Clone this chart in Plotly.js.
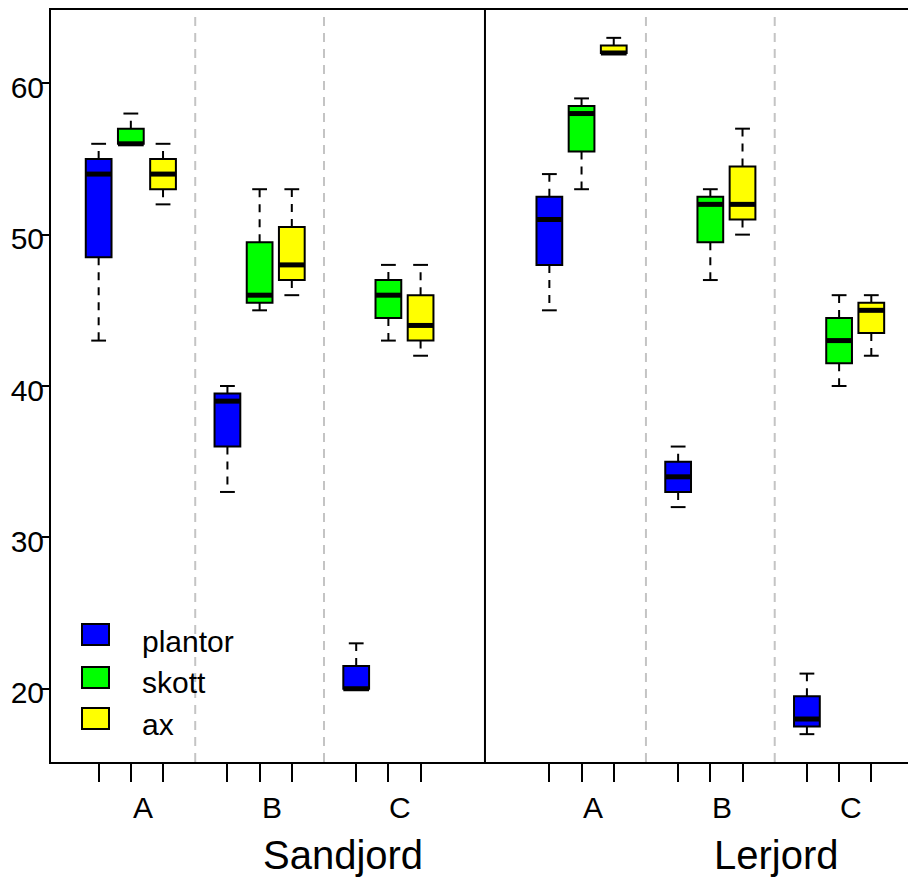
<!DOCTYPE html>
<html>
<head>
<meta charset="utf-8">
<script src="https://cdn.plot.ly/plotly-3.0.1.min.js"></script>
<style>
  html, body { margin: 0; padding: 0; background: #ffffff; }
  #chart { width: 908px; height: 878px; }
</style>
</head>
<body>
<div id="chart"></div>
<script>
// ---- data ----
const soils = ['Sandjord', 'Lerjord'];
const groups = ['A', 'B', 'C'];
const seriesNames = ['plantor', 'skott', 'ax'];
const seriesColors = ['#0000FF', '#00FF00', '#FFFF00'];
// order of each array: Sandjord A, B, C, Lerjord A, B, C
const plantorMin = [43, 33, 20, 45, 32, 17];
const plantorQ1  = [48.5, 36, 20, 48, 33, 17.5];
const plantorMed = [54, 39, 20, 51, 34, 18];
const plantorQ3  = [55, 39.5, 21.5, 52.5, 35, 19.5];
const plantorMax = [56, 40, 23, 54, 36, 21];

const skottMin = [56, 45, 43, 53, 47, 40];
const skottQ1  = [56, 45.5, 44.5, 55.5, 49.5, 41.5];
const skottMed = [56, 46, 46, 58, 52, 43];
const skottQ3  = [57, 49.5, 47, 58.5, 52.5, 44.5];
const skottMax = [58, 53, 48, 59, 53, 46];

const axMin = [52, 46, 42, 62, 50, 42];
const axQ1  = [53, 47, 43, 62, 51, 43.5];
const axMed = [54, 48, 44, 62, 52, 45];
const axQ3  = [55, 50.5, 46, 62.5, 54.5, 45.5];
const axMax = [56, 53, 48, 63, 57, 46];

const yTicks = [20, 30, 40, 50, 60];

// ---- build ----
const stats = [
  {min: plantorMin, q1: plantorQ1, med: plantorMed, q3: plantorQ3, max: plantorMax},
  {min: skottMin, q1: skottQ1, med: skottMed, q3: skottQ3, max: skottMax},
  {min: axMin, q1: axQ1, med: axMed, q3: axQ3, max: axMax}
];
// slot layout: each soil takes 14 slots, each group 4 slots (3 boxes + gap)
const SOIL_STEP = 14, GROUP_STEP = 4;
function slot(si, gi, k) { return si * SOIL_STEP + gi * GROUP_STEP + k + 1; }

const BOX_W = 0.8, CAP_HALF = 0.23;
const traces = [];
const whiskX = [], whiskY = [], capX = [], capY = [], medX = [], medY = [];
const allSlots = [];

stats.forEach((st, k) => {
  const xs = [], base = [], h = [];
  soils.forEach((s, si) => {
    groups.forEach((g, gi) => {
      const i = si * groups.length + gi;
      const x = slot(si, gi, k);
      xs.push(x);
      allSlots.push(x);
      base.push(st.q1[i]);
      h.push(st.q3[i] - st.q1[i]);
      whiskX.push(x, x, null, x, x, null);
      whiskY.push(st.q3[i], st.max[i], null, st.q1[i], st.min[i], null);
      capX.push(x - CAP_HALF, x + CAP_HALF, null, x - CAP_HALF, x + CAP_HALF, null);
      capY.push(st.max[i], st.max[i], null, st.min[i], st.min[i], null);
      medX.push(x - BOX_W / 2, x + BOX_W / 2, null);
      medY.push(st.med[i], st.med[i], null);
    });
  });
  traces.push({
    type: 'bar', name: seriesNames[k], x: xs, y: h, base: base, width: BOX_W,
    marker: {color: seriesColors[k], line: {color: '#000000', width: 2}},
    showlegend: false, hoverinfo: 'skip'
  });
});
traces.push({
  type: 'scatter', mode: 'lines', x: whiskX, y: whiskY,
  line: {color: '#000000', width: 2, dash: '8px,7px'}, showlegend: false, hoverinfo: 'skip'
});
traces.push({
  type: 'scatter', mode: 'lines', x: capX, y: capY,
  line: {color: '#000000', width: 2}, showlegend: false, hoverinfo: 'skip'
});
traces.push({
  type: 'scatter', mode: 'lines', x: medX, y: medY,
  line: {color: '#000000', width: 5}, showlegend: false, hoverinfo: 'skip'
});

allSlots.sort((a, b) => a - b);

const FONT = 'Liberation Sans, Arial, sans-serif';
const shapes = [];
soils.forEach((s, si) => {
  [1, 2].forEach(j => {
    const xv = si * SOIL_STEP + j * GROUP_STEP;
    shapes.push({type: 'line', xref: 'x', yref: 'paper', x0: xv, x1: xv, y0: 0, y1: 1,
      line: {color: '#c4c4c4', width: 2, dash: '9px,7px'}, layer: 'below'});
  });
});
const dividerX = SOIL_STEP - 1;
shapes.push({type: 'line', xref: 'x', yref: 'paper', x0: dividerX, x1: dividerX, y0: 0, y1: 1,
  line: {color: '#000000', width: 2}});

const annotations = [];
// group labels
soils.forEach((s, si) => {
  groups.forEach((g, gi) => {
    annotations.push({text: g, xref: 'x', yref: 'paper', x: slot(si, gi, 1) + 0.37, y: -0.061,
      showarrow: false, xanchor: 'center', yanchor: 'middle', font: {family: FONT, size: 30, color: '#000'}});
  });
});
const soilLabelX = [8.58, 22.05];
soils.forEach((s, si) => {
  annotations.push({text: s, xref: 'x', yref: 'paper', x: soilLabelX[si], y: -0.124,
    showarrow: false, xanchor: 'center', yanchor: 'middle', font: {family: FONT, size: 40, color: '#000'}});
});
// legend
const legKeyY = [0.1695, 0.1124, 0.0572];
const legTextY = [0.1606, 0.1053, 0.0499];
seriesNames.forEach((n, k) => {
  annotations.push({text: ' ', xref: 'paper', yref: 'paper', x: 0.0523, y: legKeyY[k],
    xanchor: 'center', yanchor: 'middle', showarrow: false, width: 25, height: 19,
    bgcolor: seriesColors[k], bordercolor: '#000', borderwidth: 2, borderpad: 0,
    font: {size: 2}});
  annotations.push({text: n, xref: 'paper', yref: 'paper', x: 0.104, y: legTextY[k],
    xanchor: 'left', yanchor: 'middle', showarrow: false,
    font: {family: FONT, size: 30, color: '#000'}});
});

const layout = {
  width: 908, height: 878,
  margin: {l: 51, r: 0, t: 10, b: 116, pad: 0},
  paper_bgcolor: '#ffffff', plot_bgcolor: '#ffffff',
  font: {family: FONT, color: '#000'},
  barmode: 'overlay',
  showlegend: false,
  hovermode: false,
  xaxis: {
    range: [-0.48, 26.14], showgrid: false, zeroline: false,
    showline: true, mirror: true, linecolor: '#000', linewidth: 2,
    tickmode: 'array', tickvals: allSlots, ticks: 'outside', ticklen: 18, tickwidth: 2, tickcolor: '#000',
    showticklabels: false
  },
  yaxis: {
    range: [15.16, 64.84], showgrid: false, zeroline: false,
    showline: true, mirror: false, linecolor: '#000', linewidth: 2,
    tickmode: 'array', tickvals: yTicks, ticks: 'outside', ticklen: 7, tickwidth: 2, tickcolor: '#000',
    tickfont: {family: FONT, size: 30, color: '#000'}, ticklabelstandoff: -8, ticklabelshift: 4
  },
  shapes: shapes,
  annotations: annotations
};

Plotly.newPlot('chart', traces, layout, {displayModeBar: false, staticPlot: true});
</script>
</body>
</html>
